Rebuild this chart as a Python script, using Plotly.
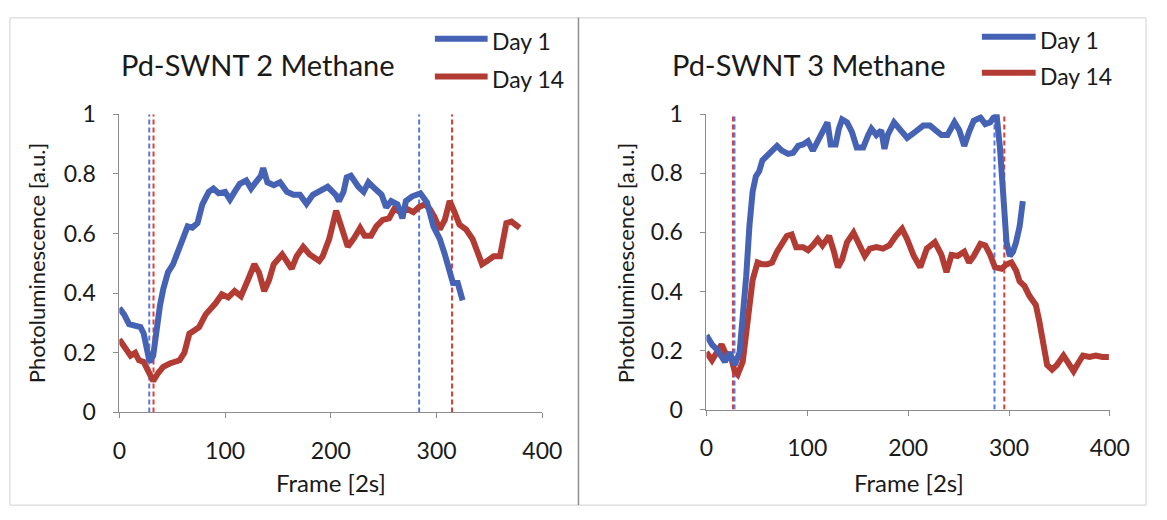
import plotly.graph_objects as go

# ---------------- data ----------------
left_day1_x = [0, 4.6, 9.2, 13.9, 20, 23, 26, 28.6, 32, 35, 38.5, 41.5, 46, 50.8, 55.4, 60, 64.6, 69, 73.9, 78.5,
               84.6, 89, 93.9, 100, 104.6, 109, 113.9, 120, 124.6, 129, 133.9, 136, 140, 146, 152, 158.5, 164.6,
               170.8, 177, 183, 189, 197, 204.6, 207.7, 212, 215, 219, 226, 231, 235.6, 241.6, 248, 252.4, 257,
               263, 267.7, 271, 277, 284.7, 291, 297, 303, 307.8, 312.4, 315.5, 320, 324.6]
left_day1_y = [0.35, 0.328, 0.296, 0.29, 0.286, 0.265, 0.2, 0.169, 0.19, 0.275, 0.36, 0.413, 0.47, 0.497, 0.54,
               0.593, 0.624, 0.62, 0.635, 0.698, 0.74, 0.751, 0.735, 0.74, 0.714, 0.74, 0.767, 0.778, 0.751, 0.772,
               0.794, 0.82, 0.772, 0.762, 0.772, 0.74, 0.73, 0.73, 0.7, 0.73, 0.74, 0.757, 0.73, 0.709, 0.74, 0.788,
               0.794, 0.757, 0.74, 0.772, 0.751, 0.73, 0.688, 0.709, 0.698, 0.651, 0.709, 0.725, 0.735, 0.704,
               0.624, 0.582, 0.53, 0.466, 0.434, 0.434, 0.376]

left_day14_x = [0, 6, 10.6, 15, 18.5, 23, 27.7, 32, 36.9, 41.5, 47.7, 52.3, 57, 61.5, 66.2, 70.8, 75.4, 81.5, 86,
                90.8, 97, 103, 109, 115, 121.6, 127.7, 132, 137, 141.6, 146, 154, 158.5, 163, 167.7, 173.9, 180,
                189, 192.3, 198.5, 205, 210.8, 216, 221.5, 227.7, 232, 238, 243, 249, 255, 260, 266, 272, 278, 283,
                289, 293.5, 298, 303, 307.8, 312.4, 317, 321.6, 327.8, 334, 338.5, 343, 347.8, 354, 360, 363, 366,
                370.8, 375, 378.6]
left_day14_y = [0.245, 0.212, 0.19, 0.2, 0.175, 0.169, 0.138, 0.106, 0.133, 0.153, 0.164, 0.169, 0.175, 0.2,
                0.264, 0.275, 0.286, 0.328, 0.344, 0.365, 0.396, 0.386, 0.407, 0.39, 0.444, 0.497, 0.47, 0.407,
                0.444, 0.497, 0.53, 0.508, 0.482, 0.524, 0.555, 0.53, 0.508, 0.524, 0.582, 0.677, 0.614, 0.556,
                0.582, 0.619, 0.593, 0.593, 0.624, 0.646, 0.651, 0.683, 0.672, 0.683, 0.672, 0.688, 0.698, 0.683,
                0.656, 0.614, 0.646, 0.709, 0.672, 0.63, 0.614, 0.582, 0.54, 0.497, 0.508, 0.524, 0.524, 0.571,
                0.635, 0.64, 0.63, 0.619]

right_day1_x = [0, 5.5, 10.3, 15, 18.4, 23, 28, 32.9, 36.1, 39.4, 42.6, 45.8, 49, 52.3, 55.5, 60.3, 65, 70, 74.8,
                81, 86, 91, 95.8, 100.7, 105.5, 110.4, 115.2, 120, 123.2, 128.1, 131.3, 134.5, 139.4, 144.2, 149,
                155.5, 160.4, 163.6, 168.5, 173.3, 176.5, 179.7, 186, 191, 199, 207, 215, 221.6, 228, 233, 239,
                245.9, 250.7, 255.6, 260.4, 265, 271.7, 276.5, 281.4, 284.6, 287.8, 291, 294.3, 297.5, 300.8, 304,
                307, 310.5, 313.7]
right_day1_y = [0.252, 0.22, 0.204, 0.178, 0.162, 0.194, 0.151, 0.194, 0.3, 0.45, 0.621, 0.738, 0.79, 0.807,
                0.844, 0.86, 0.87, 0.893, 0.877, 0.866, 0.87, 0.893, 0.898, 0.909, 0.877, 0.909, 0.951, 0.973,
                0.898, 0.898, 0.951, 0.983, 0.973, 0.941, 0.888, 0.888, 0.93, 0.951, 0.93, 0.946, 0.883, 0.93,
                0.973, 0.955, 0.92, 0.941, 0.962, 0.962, 0.946, 0.93, 0.93, 0.973, 0.946, 0.893, 0.941, 0.978,
                0.989, 0.967, 0.973, 0.989, 0.994, 0.888, 0.727, 0.567, 0.52, 0.535, 0.567, 0.62, 0.706]

right_day14_x = [0, 5.5, 10.3, 15, 20, 24.8, 28, 31, 36, 39.4, 42.6, 45.8, 50.7, 55.5, 60.3, 65, 70, 74.8, 79.7,
                 84.5, 89, 95.8, 100.7, 105.5, 110.4, 115, 121.6, 126.4, 130.3, 134.5, 139.4, 145.8, 150.7, 157,
                 162, 168.5, 175, 181.3, 187.8, 194, 199, 205.6, 212, 218.5, 226.5, 233, 238, 243, 249, 255.6,
                 260.4, 265, 271.7, 276.5, 281.4, 286, 292.6, 297.5, 302.4, 307, 310.5, 315.4, 320, 326.6, 330,
                 334.6, 337.8, 342.7, 347.5, 354, 358.6, 364, 368.4, 373.3, 379.8, 386, 392.6, 399]
right_day14_y = [0.194, 0.167, 0.194, 0.22, 0.183, 0.172, 0.13, 0.119, 0.162, 0.258, 0.364, 0.439, 0.498, 0.492,
                 0.492, 0.498, 0.535, 0.561, 0.588, 0.593, 0.55, 0.55, 0.54, 0.556, 0.577, 0.556, 0.588, 0.535,
                 0.482, 0.508, 0.567, 0.599, 0.567, 0.52, 0.545, 0.55, 0.545, 0.556, 0.588, 0.612, 0.577, 0.52,
                 0.482, 0.545, 0.567, 0.524, 0.465, 0.524, 0.52, 0.535, 0.498, 0.52, 0.561, 0.556, 0.524, 0.482,
                 0.477, 0.492, 0.498, 0.471, 0.434, 0.418, 0.386, 0.354, 0.3, 0.216, 0.151, 0.135, 0.151, 0.183,
                 0.156, 0.13, 0.156, 0.183, 0.178, 0.183, 0.178, 0.178]

# vertical event markers (frame)
left_vlines_day1 = [28.3, 283.5]
left_vlines_day14 = [32.3, 314.6]
right_vlines_day1 = [27.8, 285.6]
right_vlines_day14 = [26.3, 295.3]

titles = ["Pd-SWNT 2 Methane", "Pd-SWNT 3 Methane"]
series_names = ["Day 1", "Day 14"]
x_title = "Frame [2s]"
y_title = "Photoluminescence [a.u.]"
x_ticks = [0, 100, 200, 300, 400]
y_ticks = [0, 0.2, 0.4, 0.6, 0.8, 1]
y_ticktext = ["0", "0.2", "0.4", "0.6", "0.8", "1"]

# ---------------- style ----------------
BLUE = "#4662b4"
RED = "#b23c33"
VBLUE = "#5878e6"
VRED = "#e23c3c"
FONT = "Lato"
TXT = "#1a1a1a"
W, H = 1167, 520

fig = go.Figure()

panels = [
    dict(xa="x", ya="y", d1=(left_day1_x, left_day1_y), d14=(left_day14_x, left_day14_y),
         v1=left_vlines_day1, v14=left_vlines_day14),
    dict(xa="x2", ya="y2", d1=(right_day1_x, right_day1_y), d14=(right_day14_x, right_day14_y),
         v1=right_vlines_day1, v14=right_vlines_day14),
]

for p in panels:
    for xv in p["v1"]:
        fig.add_trace(go.Scatter(x=[xv, xv], y=[0, 1], mode="lines", xaxis=p["xa"], yaxis=p["ya"],
                                 line=dict(color=VBLUE, width=2, dash="5px,3px"), showlegend=False,
                                 hoverinfo="skip"))
    for xv in p["v14"]:
        fig.add_trace(go.Scatter(x=[xv, xv], y=[0, 1], mode="lines", xaxis=p["xa"], yaxis=p["ya"],
                                 line=dict(color=VRED, width=2, dash="5px,3px"), showlegend=False,
                                 hoverinfo="skip"))
    fig.add_trace(go.Scatter(x=p["d14"][0], y=p["d14"][1], mode="lines", name=series_names[1],
                             xaxis=p["xa"], yaxis=p["ya"], line=dict(color=RED, width=6), showlegend=False))
    fig.add_trace(go.Scatter(x=p["d1"][0], y=p["d1"][1], mode="lines", name=series_names[0],
                             xaxis=p["xa"], yaxis=p["ya"], line=dict(color=BLUE, width=6), showlegend=False))

axis_common = dict(showgrid=False, zeroline=False, showline=True, linecolor="#8c8c8c", linewidth=1,
                   ticks="outside", ticklen=5, tickcolor="#8c8c8c", mirror=False,
                   tickfont=dict(family=FONT, size=23, color=TXT))


def px(v):
    return v / W


def py(v):
    return 1 - v / H


fig.update_layout(
    width=W, height=H, margin=dict(l=0, r=0, t=0, b=0),
    paper_bgcolor="white", plot_bgcolor="white", showlegend=False,
    xaxis=dict(domain=[px(115), px(548)], range=[0, 400], tickvals=x_ticks, anchor="y",
               ticklabelstandoff=13, **axis_common),
    yaxis=dict(domain=[py(420), py(105)], range=[0, 1], tickvals=y_ticks, ticktext=y_ticktext, anchor="x",
               ticklabelstandoff=13, **axis_common),
    xaxis2=dict(domain=[px(716), px(1129)], range=[0, 400], tickvals=x_ticks, anchor="y2",
                ticklabelstandoff=13, **axis_common),
    yaxis2=dict(domain=[py(417), py(105)], range=[0, 1], tickvals=y_ticks, ticktext=y_ticktext, anchor="x2",
                ticklabelstandoff=13, **axis_common),
)

shapes = []
# panel frames
shapes.append(dict(type="rect", xref="paper", yref="paper", x0=px(3), x1=px(1166), y0=py(518), y1=py(3),
                   line=dict(color="#cfcfcf", width=1)))
shapes.append(dict(type="line", xref="paper", yref="paper", x0=px(585), x1=px(585), y0=py(518), y1=py(3),
                   line=dict(color="#8f8f8f", width=1.5)))

annotations = []
# titles
for text, cx in ((titles[0], 257), (titles[1], 821)):
    annotations.append(dict(text=text, x=px(cx), y=py(52), xref="paper", yref="paper", showarrow=False,
                            xanchor="center", yanchor="middle", font=dict(family=FONT, size=29, color=TXT)))
# axis titles
for cx in (332, 923):
    annotations.append(dict(text=x_title, x=px(cx), y=py(494), xref="paper", yref="paper", showarrow=False,
                            xanchor="center", yanchor="middle", font=dict(family=FONT, size=24, color=TXT)))
for cx in (31, 634):
    annotations.append(dict(text=y_title, x=px(cx), y=py(262), xref="paper", yref="paper", showarrow=False,
                            textangle=-90, xanchor="center", yanchor="middle",
                            font=dict(family=FONT, size=22, color=TXT)))

# legends (one per panel)
legend_specs = [
    (438, 492, 25, 65),
    (998, 1053, 23, 61),
]
for (lx0, lx1, ly1, ly14) in legend_specs:
    for name, col, ly in ((series_names[0], BLUE, ly1), (series_names[1], RED, ly14)):
        shapes.append(dict(type="line", xref="paper", yref="paper", x0=px(lx0), x1=px(lx1), y0=py(ly),
                           y1=py(ly), line=dict(color=col, width=6)))
        annotations.append(dict(text=name, x=px(lx1 + 2), y=py(ly + 3), xref="paper", yref="paper",
                                showarrow=False, xanchor="left", yanchor="middle",
                                font=dict(family=FONT, size=23, color=TXT)))

fig.update_layout(shapes=shapes, annotations=annotations)

fig.write_html("out.html")
